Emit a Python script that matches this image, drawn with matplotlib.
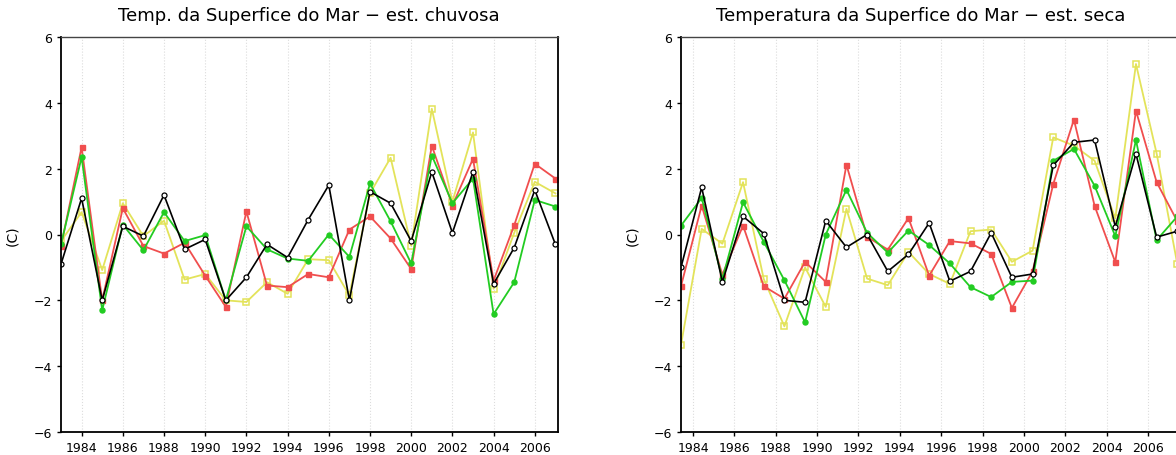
import matplotlib as mpl
import matplotlib.pylab as plt
import numpy as np

# Years of the rainy season series (points sit on the year)
years_chuvosa = np.arange(1983, 2008)
# Dry season points are drawn a bit after the year tick
years_seca = np.arange(1983, 2008)
seca_offset = 0.42

# Sea surface temperature anomalies, rainy season (C)
chuv_black = [-0.9, 1.1, -2.0, 0.25, -0.05, 1.2, -0.45, -0.15, -2.0, -1.3, -0.3, -0.7, 0.45,
              1.5, -2.0, 1.3, 0.95, -0.2, 1.9, 0.05, 1.9, -1.5, -0.4, 1.35, -0.3]
chuv_red = [-0.35, 2.65, -2.0, 0.8, -0.35, -0.58, -0.25, -1.25, -2.2, 0.7, -1.55, -1.6, -1.2,
            -1.3, 0.15, 0.55, -0.12, -1.05, 2.7, 0.88, 2.3, -1.4, 0.28, 2.15, 1.7]
chuv_green = [-0.3, 2.35, -2.3, 0.3, -0.48, 0.68, -0.2, -0.02, -2.0, 0.25, -0.45, -0.73, -0.8,
              0.0, -0.68, 1.55, 0.4, -0.88, 2.4, 0.95, 1.7, -2.42, -1.45, 1.05, 0.85]
chuv_yellow = [-0.2, 0.68, -1.08, 0.95, -0.05, 0.42, -1.37, -1.2, -2.0, -2.05, -1.45, -1.8, -0.75,
               -0.78, -1.85, 1.25, 2.33, -0.34, 3.82, 1.0, 3.1, -1.65, 0.05, 1.6, 1.25]

# Sea surface temperature anomalies, dry season (C)
seca_black = [-1.0, 1.43, -1.44, 0.55, 0.03, -2.0, -2.06, 0.42, -0.39, 0.0, -1.12, -0.6, 0.35,
              -1.42, -1.12, 0.05, -1.3, -1.2, 2.1, 2.8, 2.87, 0.24, 2.45, -0.08, 0.1]
seca_red = [-1.57, 0.88, -1.22, 0.27, -1.57, -1.95, -0.83, -1.44, 2.12, -0.07, -0.46, 0.5, -1.25,
            -0.2, -0.27, -0.59, -2.23, -1.12, 1.53, 3.49, 0.87, -0.84, 3.76, 1.59, 0.4]
seca_green = [0.27, 1.11, -1.35, 0.98, -0.22, -1.39, -2.67, 0.0, 1.36, 0.05, -0.55, 0.12, -0.32,
              -0.88, -1.6, -1.9, -1.44, -1.4, 2.24, 2.6, 1.48, -0.05, 2.87, -0.17, 0.55]
seca_yellow = [-3.35, 0.17, -0.28, 1.59, -1.35, -2.79, -1.0, -2.2, 0.78, -1.34, -1.54, -0.53, -1.2,
               -1.5, 0.1, 0.15, -0.83, -0.49, 2.95, 2.7, 2.24, 0.49, 5.18, 2.46, -0.9]

xtick_years = np.arange(1984, 2007, 2)

# Line colours (GrADS like)
c_black = 'black'
c_red = '#f04e4e'
c_green = '#22cc22'
c_yellow = '#e3e35a'


def draw_panel(ax, x, black, red, green, yellow, xlim, title_x, title):
    """Draws the four SST series on one panel."""
    ax.plot(x, yellow, '-s', color=c_yellow, mfc='none', ms=4, mew=1.1, lw=1.3)
    ax.plot(x, red, '-s', color=c_red, ms=3.6, lw=1.3)
    ax.plot(x, green, '-o', color=c_green, ms=3.6, lw=1.3)
    ax.plot(x, black, '-o', color=c_black, mfc='white', ms=3.6, mew=0.9, lw=1.2)

    ax.set_xlim(xlim)
    ax.set_ylim(-6, 6)
    ax.set_yticks(np.arange(-6, 7, 2))
    ax.set_xticks(xtick_years)
    ax.tick_params(labelsize=9, length=3, width=1)
    ax.grid(axis='x', color='#dcdcdc', linestyle=':', linewidth=0.8)
    ax.set_ylabel('(C)', fontsize=10, labelpad=10)

    for side in ['left', 'bottom', 'right']:
        ax.spines[side].set_linewidth(1.3)
    ax.spines['top'].set_linewidth(1.0)
    ax.spines['top'].set_linestyle((0, (2, 1)))
    ax.spines['top'].set_color('#444444')

    fig.text(title_x, 0.965, title, ha='center', va='center', fontsize=13)


plt.rcParams.update({'font.size': 10, 'font.family': 'DejaVu Sans'})
fig = plt.figure(figsize=(11.76, 4.56), dpi=100)

# Panel geometry in pixels -> figure fractions
bottom = 1 - 433 / 456
height = (433 - 38) / 456
width = 497 / 1176

ax1 = fig.add_axes([61 / 1176, bottom, width, height])
draw_panel(ax1, years_chuvosa, chuv_black, chuv_red, chuv_green, chuv_yellow,
           (1983, 1983 + 497 / 20.6), 309 / 1176,
           'Temp. da Superfice do Mar \u2212 est. chuvosa')

ax2 = fig.add_axes([681 / 1176, bottom, width, height])
draw_panel(ax2, years_seca + seca_offset, seca_black, seca_red, seca_green, seca_yellow,
           (1983 + seca_offset, 1983 + seca_offset + 497 / 20.68), 921 / 1176,
           'Temperatura da Superfice do Mar \u2212 est. seca')

plt.savefig('out.png', dpi=100)
